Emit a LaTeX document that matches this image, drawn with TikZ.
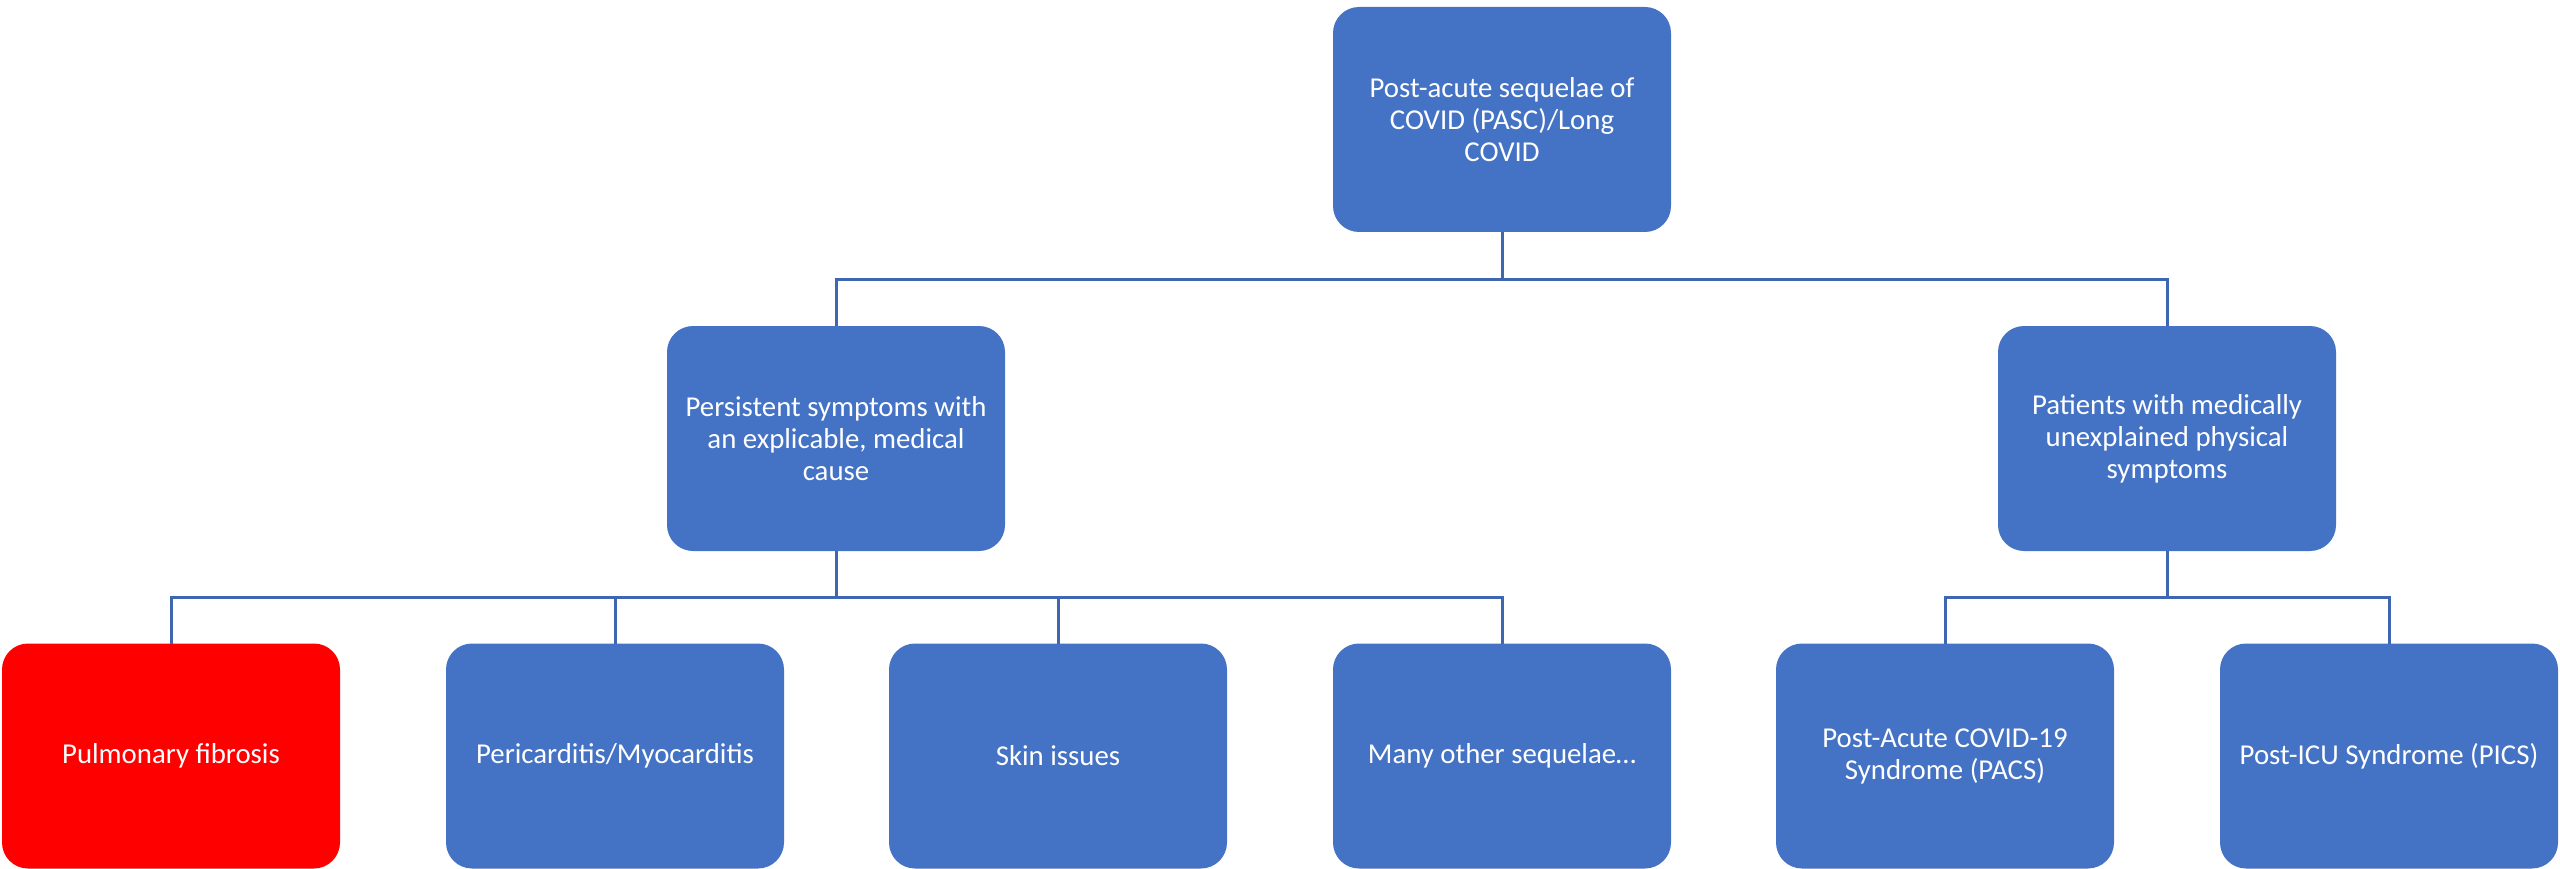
\documentclass[tikz,border=0pt]{standalone}
\usepackage{fontspec}
\setmainfont{Carlito}
\definecolor{boxblue}{HTML}{4472C4}
\definecolor{boxred}{HTML}{FF0000}
\definecolor{linkblue}{HTML}{3F66B0}
\begin{document}
\begin{tikzpicture}[x=1pt,y=-1pt,
  box/.style={fill=boxblue, draw=none, rounded corners=26pt, minimum width=338pt, minimum height=225pt,
    inner sep=0pt, outer sep=0pt, align=center, text=white, font=\fontsize{28.8}{32}\selectfont},
  redbox/.style={box, fill=boxred},
  link/.style={draw=linkblue, line width=3pt}]
\useasboundingbox (0,0) rectangle (2560,869);
\node[box] (top) at (1502,119.5) {Post-acute sequelae of\\COVID (PASC)/Long\\COVID};
\node[box] (ml) at (836,438.5) {Persistent symptoms with\\an explicable, medical\\cause};
\node[box] (mr) at (2167,438.5) {Patients with medically\\unexplained physical\\symptoms};
\node[redbox] (b1) at (171,756) {Pulmonary fibrosis};
\node[box] (b2) at (615,756) {Pericarditis/Myocarditis};
\node[box] (b3) at (1058,756) {Skin issues};
\node[box] (b4) at (1502,756) {Many other sequelae…};
\node[box] (b5) at (1945,756) {Post-Acute COVID-19\\Syndrome (PACS)};
\node[box] (b6) at (2389,756) {Post-ICU Syndrome (PICS)};
\draw[link] (top.south) -- ++(0,47) -| (ml.north);
\draw[link] (top.south) -- ++(0,47) -| (mr.north);
\foreach \b in {b1,b2,b3,b4}{\draw[link] (ml.south) -- ++(0,46) -| (\b.north);}
\foreach \b in {b5,b6}{\draw[link] (mr.south) -- ++(0,46) -| (\b.north);}
\end{tikzpicture}
\end{document}
